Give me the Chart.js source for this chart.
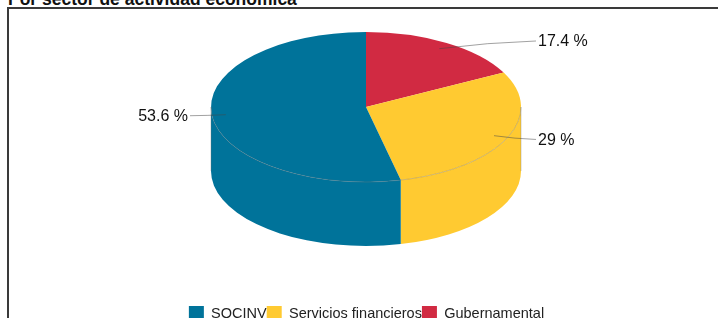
<!DOCTYPE html>
<html>
<head>
<meta charset="utf-8">
<script src="https://cdn.jsdelivr.net/npm/chart.js@4"></script>
<style>
  body { margin: 0; background: #fff; font-family: "Liberation Sans", Arial, sans-serif; }
  #wrap { position: relative; width: 718px; height: 318px; overflow: hidden; }
  #title { position: absolute; left: 8px; top: -11px; font-size: 17.5px; line-height: 20px; font-weight: bold; color: #111; white-space: nowrap; }
  #frame { position: absolute; left: 7px; top: 7px; right: -4px; bottom: -4px; border-top: 2px solid #3a3a3a; border-left: 2px solid #3a3a3a; }
  #chart-box { position: absolute; left: 0; top: 0; width: 718px; height: 318px; }
</style>
</head>
<body>
<div id="wrap">
  <div id="title">Por sector de actividad económica</div>
  <div id="frame"></div>
  <div id="chart-box"><canvas id="sector-chart"></canvas></div>
</div>
<script>
// legend order (the pie itself runs the other way round)
const categories = ['SOCINV', 'Servicios financieros', 'Gubernamental'];
const shares = [53.6, 29, 17.4];
const colors = ['#00739a', '#ffca31', '#d12a42'];

// where the tilted pie sits
const PIE = { cx: 366, cy: 107, tilt: 0.484, depth: 64 };

const pie3d = {
    id: 'pie3d',
    beforeDatasetsDraw(chart) {
        const arcs = chart.getDatasetMeta(0).data;
        const ctx = chart.ctx;
        const { x, y, outerRadius: r } = arcs[0];
        ctx.save();
        ctx.translate(PIE.cx, PIE.cy);
        ctx.scale(1, PIE.tilt);
        ctx.translate(-x, -y);
        const d = PIE.depth / PIE.tilt;
        // side walls, only the front half is visible
        arcs.forEach(arc => {
            for (let k = -1; k <= 1; k++) {
                const a0 = Math.max(arc.startAngle, k * 2 * Math.PI);
                const a1 = Math.min(arc.endAngle, k * 2 * Math.PI + Math.PI);
                if (a1 <= a0) continue;
                ctx.beginPath();
                ctx.arc(x, y, r, a0, a1);
                ctx.arc(x, y + d, r, a1, a0, true);
                ctx.closePath();
                ctx.fillStyle = arc.options.backgroundColor;
                ctx.fill();
            }
        });
    },
    afterDatasetsDraw(chart) {
        const arcs = chart.getDatasetMeta(0).data;
        const ctx = chart.ctx;
        const { x, y, outerRadius: r } = arcs[0];
        const d = PIE.depth / PIE.tilt;
        ctx.beginPath();
        ctx.arc(x, y, r, 0, Math.PI);
        ctx.moveTo(x + r, y);
        ctx.lineTo(x + r, y + d);
        ctx.moveTo(x - r, y);
        ctx.lineTo(x - r, y + d);
        ctx.restore();
        ctx.save();
        ctx.strokeStyle = 'rgba(120,120,120,0.45)';
        ctx.lineWidth = 0.8;
        ctx.stroke();

        // value labels with leader lines
        const values = chart.data.datasets[0].data;
        ctx.font = '16px "Liberation Sans", Arial, sans-serif';
        ctx.fillStyle = '#111';
        ctx.textBaseline = 'middle';
        arcs.forEach((arc, i) => {
            const mid = (arc.startAngle + arc.endAngle) / 2;
            const c = Math.cos(mid), s = Math.sin(mid);
            const sx = PIE.cx + c * r * 0.91;
            const sy = PIE.cy + s * r * PIE.tilt * 0.91;
            const ly = PIE.cy + s * r * PIE.tilt * 1.03;
            const right = c >= 0;
            const lx = right ? PIE.cx + r + 15 : PIE.cx - r - 21;
            ctx.beginPath();
            ctx.moveTo(sx, sy);
            ctx.quadraticCurveTo((sx + lx) / 2, ly + (sy - ly) * 0.2, lx, ly);
            ctx.strokeStyle = 'rgba(70,70,70,0.5)';
            ctx.lineWidth = 1;
            ctx.stroke();
            ctx.textAlign = right ? 'left' : 'right';
            ctx.fillText(values[i] + ' %', right ? lx + 2 : lx - 2, ly + 1);
        });
        ctx.restore();
    }
};

const ctx = document.getElementById('sector-chart').getContext('2d');
new Chart(ctx, {
    type: 'pie',
    data: {
        labels: categories.slice().reverse(),
        datasets: [{
            data: shares.slice().reverse(),
            backgroundColor: colors.slice().reverse(),
            borderWidth: 0,
            radius: 155,
            clip: false
        }]
    },
    options: {
        responsive: true,
        maintainAspectRatio: false,
        animation: false,
        events: [],
        layout: { padding: { left: 15, right: 0, top: 0, bottom: -13 } },
        plugins: {
            tooltip: { enabled: false },
            legend: {
                position: 'bottom',
                reverse: true,
                labels: {
                    boxWidth: 15,
                    boxHeight: 15,
                    padding: 0,
                    color: '#222',
                    font: { size: 14.5, family: '"Liberation Sans", Arial, sans-serif' }
                }
            }
        }
    },
    plugins: [pie3d]
});
</script>
</body>
</html>
